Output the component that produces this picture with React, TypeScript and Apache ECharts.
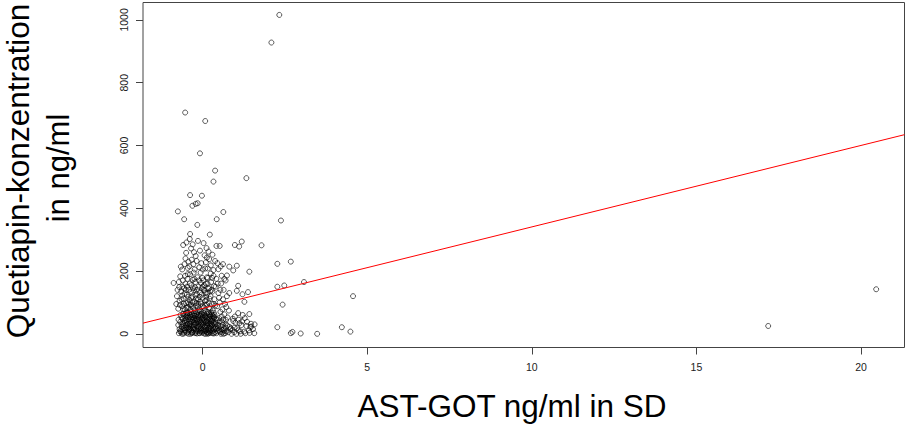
import React, { useEffect, useRef } from "react";
import * as echarts from "echarts";

// AST-GOT (SD) vs Quetiapin concentration (ng/ml), pairs [x, y]
const coreLow: [number, number][] = [
  [-0.72, 2], [-0.65, 5], [-0.58, 1], [-0.52, 8], [-0.47, 3], [-0.41, 12], [-0.36, 0], [-0.3, 6], [-0.25, 15], [-0.2, 4], [-0.15, 9], [-0.1, 2], [-0.05, 18], [0.0, 7], [0.05, 1], [0.1, 11], [0.15, 5], [0.2, 20], [0.25, 3], [0.3, 9], [0.35, 14], [0.42, 2],
  [-0.7, 15], [-0.63, 22], [-0.56, 18], [-0.5, 28], [-0.44, 21], [-0.38, 33], [-0.33, 25], [-0.27, 38], [-0.22, 29], [-0.17, 42], [-0.12, 31], [-0.07, 26], [-0.02, 45], [0.03, 35], [0.08, 24], [0.13, 40], [0.18, 30], [0.23, 47], [0.28, 27], [0.33, 36], [0.4, 22],
  [-0.68, 38], [-0.61, 48], [-0.55, 41], [-0.49, 55], [-0.43, 46], [-0.37, 60], [-0.31, 52], [-0.26, 64], [-0.21, 57], [-0.16, 68], [-0.11, 50], [-0.06, 62], [-0.01, 54], [0.04, 66], [0.09, 58], [0.14, 51], [0.19, 63], [0.24, 56], [0.29, 49], [0.36, 60], [0.44, 44],
  [-0.74, 28], [-0.66, 10], [-0.6, 33], [-0.54, 12], [-0.48, 40], [-0.42, 6], [-0.35, 47], [-0.29, 17], [-0.23, 2], [-0.18, 23], [-0.13, 14], [-0.08, 37], [-0.03, 10], [0.01, 28], [0.06, 43], [0.11, 19], [0.16, 0], [0.21, 34], [0.26, 12], [0.31, 2], [0.38, 30], [0.46, 8],
  [-0.62, 0], [-0.57, 26], [-0.51, 19], [-0.46, 32], [-0.4, 25], [-0.34, 11], [-0.28, 27], [-0.24, 44], [-0.19, 35], [-0.14, 20], [-0.09, 3], [-0.04, 30], [0.02, 16], [0.07, 8], [0.12, 29], [0.17, 13], [0.22, 6], [0.27, 38], [0.32, 20], [0.37, 5],
  [-0.53, 50], [-0.45, 17], [-0.39, 42], [-0.32, 4], [-0.26, 50], [-0.2, 13], [-0.14, 55], [-0.06, 8], [0.0, 40], [0.05, 22], [0.1, 52], [0.15, 33], [0.2, 10], [0.25, 42], [0.33, 48], [0.4, 35],
  [-0.67, 60], [-0.59, 64], [-0.5, 68], [-0.41, 66], [-0.34, 70], [-0.23, 72], [-0.13, 74], [-0.04, 71], [0.06, 73], [0.16, 70], [0.26, 68], [0.34, 67],
  [-0.64, 30], [-0.47, 60], [-0.37, 21], [-0.29, 58], [-0.16, 46], [-0.07, 58], [0.03, 60], [0.13, 3], [0.23, 25], [0.3, 58], [0.43, 15],
  [0.5, 10], [0.55, 25], [0.6, 4], [0.65, 18], [0.7, 32], [0.52, 40], [0.58, 55], [0.63, 12], [0.68, 2], [0.48, 28], [0.56, 0], [0.62, 45], [0.66, 62], [0.54, 70], [0.72, 8], [0.5, 50], [0.6, 36], [0.7, 20],
  [-0.69, 8], [-0.61, 14], [-0.55, 4], [-0.49, 20], [-0.43, 0], [-0.39, 16], [-0.33, 3], [-0.27, 22], [-0.21, 9], [-0.17, 1], [-0.11, 24], [-0.06, 14], [-0.01, 3], [0.04, 12], [0.09, 0], [0.14, 26], [0.19, 2], [0.24, 16], [0.29, 30], [0.34, 1], [0.39, 18], [0.45, 26],
  [-0.73, 45], [-0.64, 52], [-0.57, 36], [-0.51, 44], [-0.45, 52], [-0.4, 30], [-0.35, 38], [-0.3, 44], [-0.25, 33], [-0.2, 48], [-0.15, 38], [-0.1, 44], [-0.05, 36], [0.0, 50], [0.05, 46], [0.1, 37], [0.15, 45], [0.2, 54], [0.25, 32], [0.3, 42], [0.35, 52], [0.41, 48],
  [-0.58, 58], [-0.52, 62], [-0.46, 66], [-0.38, 54], [-0.32, 62], [-0.25, 58], [-0.18, 62], [-0.12, 60], [-0.02, 64], [0.07, 54], [0.12, 64], [0.21, 60], [0.28, 62], [0.32, 55],
  [0.47, 18], [0.53, 6], [0.57, 14], [0.61, 28], [0.67, 10], [0.71, 44], [0.75, 26], [0.76, 52], [0.64, 0],
];

const rightTail: [number, number][] = [
  [0.78, 5], [0.82, 22], [0.86, 18], [0.9, 12], [0.93, 41], [0.98, 55], [1.03, 0], [1.05, 18], [1.1, 45], [1.14, 8], [1.18, 28], [1.22, 60], [1.26, 7], [1.3, 2], [1.35, 38], [1.41, 11], [1.45, 22], [1.53, 15], [1.57, 2], [1.58, 30],
  [0.8, 74], [0.92, 48], [1.08, 66], [1.2, 40], [0.88, 0], [1.0, 35], [1.16, 0], [1.33, 25], [1.43, 3], [1.48, 23], [1.47, 32], [0.84, 15], [0.96, 5], [1.09, 11], [1.28, 50], [1.12, 34], [0.97, 20], [1.42, 63],
];

const coreMid: [number, number][] = [
  [-0.88, 162], [-0.71, 149], [-0.68, 183], [-0.66, 214], [-0.78, 120], [-0.8, 95], [-0.74, 80], [-0.7, 105], [-0.65, 135], [-0.62, 88], [-0.6, 170], [-0.58, 112], [-0.56, 145], [-0.54, 78], [-0.52, 160], [-0.5, 98], [-0.48, 125], [-0.46, 175], [-0.44, 85], [-0.42, 140], [-0.4, 108], [-0.38, 190], [-0.36, 92], [-0.34, 155], [-0.32, 118], [-0.3, 172], [-0.28, 82], [-0.26, 138], [-0.24, 102], [-0.22, 165], [-0.2, 90], [-0.18, 128], [-0.16, 180], [-0.14, 110], [-0.12, 150], [-0.1, 76], [-0.08, 132], [-0.06, 195], [-0.04, 96], [-0.02, 145], [0.0, 115], [0.02, 170], [0.04, 84], [0.06, 138], [0.08, 105], [0.1, 160], [0.12, 92], [0.14, 128], [0.16, 178], [0.18, 100], [0.2, 145], [0.22, 80], [0.24, 120], [0.26, 165], [0.28, 95], [0.3, 135], [0.33, 185], [0.36, 110], [0.4, 150], [0.44, 88], [0.48, 130], [0.52, 100], [0.56, 160], [0.6, 78], [0.64, 140], [0.68, 95], [0.74, 120],
  [-0.62, 122], [-0.57, 96], [-0.53, 185], [-0.47, 150], [-0.43, 118], [-0.39, 160], [-0.35, 135], [-0.31, 100], [-0.27, 195], [-0.23, 148], [-0.19, 112], [-0.15, 86], [-0.11, 170], [-0.07, 102], [-0.03, 125], [0.01, 88], [0.05, 155], [0.09, 130], [0.13, 180], [0.17, 145], [0.21, 112], [0.25, 192], [0.31, 75], [0.35, 152], [0.42, 175], [0.5, 115], [0.58, 185], [0.7, 170],
  [-0.45, 100], [-0.37, 78], [-0.29, 145], [-0.21, 122], [-0.13, 95], [-0.05, 162], [0.03, 140], [0.11, 118], [0.19, 82], [0.27, 140], [0.38, 90],
  [0.81, 130], [1.04, 137], [1.08, 153], [1.21, 126], [1.38, 133], [1.27, 102], [0.74, 186], [0.93, 202], [1.04, 217], [1.42, 198], [0.81, 214],
  [-0.76, 140], [-0.72, 165], [-0.69, 92], [-0.64, 110], [-0.59, 78], [-0.55, 128], [-0.51, 140], [-0.49, 82], [-0.45, 190], [-0.41, 95], [-0.33, 88], [-0.25, 175], [-0.17, 140], [-0.09, 118], [-0.01, 178], [0.07, 92], [0.15, 160], [0.23, 135], [0.29, 178], [0.34, 95], [0.46, 160], [0.54, 140], [0.62, 110], [0.66, 175], [0.72, 85], [-0.61, 150], [-0.35, 115], [-0.19, 98], [0.0, 150], [0.12, 108],
];

const coreHigh: [number, number][] = [
  [-0.59, 283], [-0.49, 291], [-0.39, 302], [-0.14, 296], [0.03, 289], [0.12, 273], [-0.08, 265], [-0.21, 248], [-0.33, 236], [-0.43, 230], [0.13, 243], [0.2, 238], [0.3, 252], [0.38, 232], [0.45, 225], [0.55, 215], [0.48, 206], [0.62, 222], [-0.62, 205], [-0.55, 222], [-0.5, 258], [-0.45, 210], [-0.35, 272], [-0.28, 222], [-0.24, 205], [-0.18, 232], [-0.1, 212], [-0.04, 225], [0.0, 205], [0.06, 250], [0.1, 228], [0.16, 208], [0.25, 218], [0.33, 203], [-0.3, 285], [-0.26, 260], [0.08, 208], [0.18, 262], [0.42, 280], [-0.52, 240], [-0.4, 215],
  [-0.38, 318], [0.22, 316], [0.52, 280], [0.98, 283], [1.11, 278], [1.19, 294], [1.79, 282],
];

const outliers: [number, number][] = [
  [2.33, 1016], [2.09, 928], [-0.53, 705], [0.08, 678], [-0.08, 575], [0.38, 520], [0.33, 485], [1.33, 496], [-0.38, 442], [-0.02, 440],
  [-0.75, 390], [-0.56, 365], [-0.31, 408], [-0.21, 414], [-0.15, 416], [-0.16, 347], [0.43, 365], [0.63, 388],
  [2.38, 361], [2.68, 230], [2.27, 223], [3.08, 165], [2.48, 154], [2.27, 150], [2.43, 93], [4.57, 120],
  [2.27, 21], [4.23, 21], [4.49, 7], [3.48, 0], [2.98, 1], [2.73, 6], [2.68, 2], [17.18, 25], [20.46, 142],
];

const xTicks = [0, 5, 10, 15, 20];
const yTicks = [0, 200, 400, 600, 800, 1000];
const xRange = [-1.81, 21.32];
const yRange = [-43.6, 1055.6];
const regIntercept = 81;
const regSlope = 25.96;

const FONT = "'Liberation Sans', Arial, Helvetica, sans-serif";

export default function App() {
  const ref = useRef<HTMLDivElement>(null);
  useEffect(() => {
    if (!ref.current) return;
    const chart = echarts.init(ref.current, undefined, { renderer: "svg" });
    const points = [...coreLow, ...rightTail, ...coreMid, ...coreHigh, ...outliers];
    const regLine = xRange.map((x) => [x, regIntercept + regSlope * x]);
    const tickLabel = {
      fontSize: 10.5,
      fontFamily: FONT,
      color: "#222",
      margin: 14,
      formatter: (v: number) => String(v),
    };
    chart.setOption({
      animation: false,
      backgroundColor: "#ffffff",
      grid: {
        left: 143,
        top: 2.5,
        right: 1.5,
        bottom: 79.5,
        show: true,
        borderColor: "#444",
        borderWidth: 1,
        backgroundColor: "transparent",
      },
      xAxis: {
        type: "value",
        min: xRange[0],
        max: xRange[1],
        position: "bottom",
        axisLine: { show: false, onZero: false },
        splitLine: { show: false },
        axisTick: {
          show: true,
          inside: false,
          length: 7,
          customValues: xTicks,
          lineStyle: { color: "#444", width: 1 },
        },
        axisLabel: { ...tickLabel, customValues: xTicks },
      },
      yAxis: {
        type: "value",
        min: yRange[0],
        max: yRange[1],
        position: "left",
        axisLine: { show: false, onZero: false },
        splitLine: { show: false },
        axisTick: {
          show: true,
          inside: false,
          length: 7,
          customValues: yTicks,
          lineStyle: { color: "#444", width: 1 },
        },
        axisLabel: { ...tickLabel, customValues: yTicks, rotate: 90 },
      },
      series: [
        {
          type: "scatter",
          data: points,
          symbol: "circle",
          symbolSize: 5,
          itemStyle: { color: "rgba(0,0,0,0)", borderColor: "#000", borderWidth: 0.8 },
          silent: true,
        },
        {
          type: "line",
          data: regLine,
          showSymbol: false,
          lineStyle: { color: "#ff0000", width: 1 },
          silent: true,
        },
      ],
      graphic: [
        {
          type: "text",
          x: 512,
          y: 406,
          style: {
            text: "AST-GOT ng/ml in SD",
            fontSize: 31.5,
            fontFamily: FONT,
            fill: "#000",
            textAlign: "center",
            textVerticalAlign: "middle",
          },
        },
        {
          type: "text",
          x: 18,
          y: 171,
          rotation: Math.PI / 2,
          style: {
            text: "Quetiapin-konzentration",
            fontSize: 31.5,
            fontFamily: FONT,
            fill: "#000",
            textAlign: "center",
            textVerticalAlign: "middle",
          },
        },
        {
          type: "text",
          x: 58,
          y: 168,
          rotation: Math.PI / 2,
          style: {
            text: "in ng/ml",
            fontSize: 31,
            fontFamily: FONT,
            fill: "#000",
            textAlign: "center",
            textVerticalAlign: "middle",
          },
        },
      ],
    });
    return () => chart.dispose();
  }, []);
  return (
    <div
      ref={ref}
      style={{ position: "fixed", left: 0, top: 0, width: 906, height: 427 }}
    />
  );
}
